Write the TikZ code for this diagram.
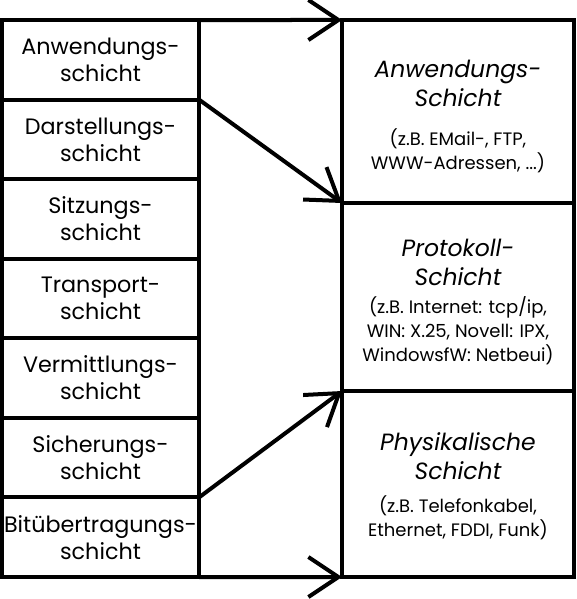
\documentclass[tikz,border=0pt]{standalone}
\usepackage{fontspec}
\setmainfont{Poppins}
\usetikzlibrary{arrows.meta}
\begin{document}
\begin{tikzpicture}[x=1pt,y=-1pt,
  frame/.style={draw, line width=4pt, inner sep=0pt, outer sep=0pt},
  lbox/.style={frame, minimum width=197pt, minimum height=79.57pt, align=center, font=\fontsize{22.3}{27}\selectfont},
  rbox/.style={frame, minimum width=232pt},
  rtitle/.style={align=center, font=\fontsize{23.5}{29}\selectfont\itshape, inner sep=0pt},
  rnote/.style={align=center, font=\fontsize{18}{24}\selectfont, inner sep=0pt},
  flow/.style={line width=4pt, -{Straight Barb[length=30pt,width=40pt]}}]
\useasboundingbox (0,0) rectangle (576,599);
\node[lbox] (L1) at (100.5,59.79)  {Anwendungs-\\schicht};
\node[lbox] (L2) at (100.5,139.36) {Darstellungs-\\schicht};
\node[lbox] (L3) at (100.5,218.93) {Sitzungs-\\schicht};
\node[lbox] (L4) at (100.5,298.5)  {Transport-\\schicht};
\node[lbox] (L5) at (100.5,378.07) {Vermittlungs-\\schicht};
\node[lbox] (L6) at (100.5,457.64) {Sicherungs-\\schicht};
\node[lbox] (L7) at (100.5,537.21) {Bitübertragungs-\\schicht};
\node[rbox, minimum height=183pt] (R1) at (458,111.5) {};
\node[rbox, minimum height=188pt] (R2) at (458,297) {};
\node[rbox, minimum height=186pt] (R3) at (458,484) {};
\node[rtitle] (T1) at (458,83)  {Anwendungs-\\Schicht};
\node[rnote]  (N1) at (458,151) {(z.B. EMail-, FTP,\\WWW-Adressen, ...)};
\node[rtitle] (T2) at (458,262) {Protokoll-\\Schicht};
\node[rnote]  (N2) at (458,331) {(z.B. Internet: tcp/ip,\\WIN: X.25, Novell: IPX,\\WindowsfW: Netbeui)};
\node[rtitle] (T3) at (458,456) {Physikalische\\Schicht};
\node[rnote]  (N3) at (458,518) {(z.B. Telefonkabel,\\Ethernet, FDDI, Funk)};
\draw[flow] (L1.north east) -- (R1.north west);
\draw[flow] (L1.south east) -- (R1.south west);
\draw[flow] (L7.north east) -- (R3.north west);
\draw[flow] (L7.south east) -- (R3.south west);
\end{tikzpicture}
\end{document}
